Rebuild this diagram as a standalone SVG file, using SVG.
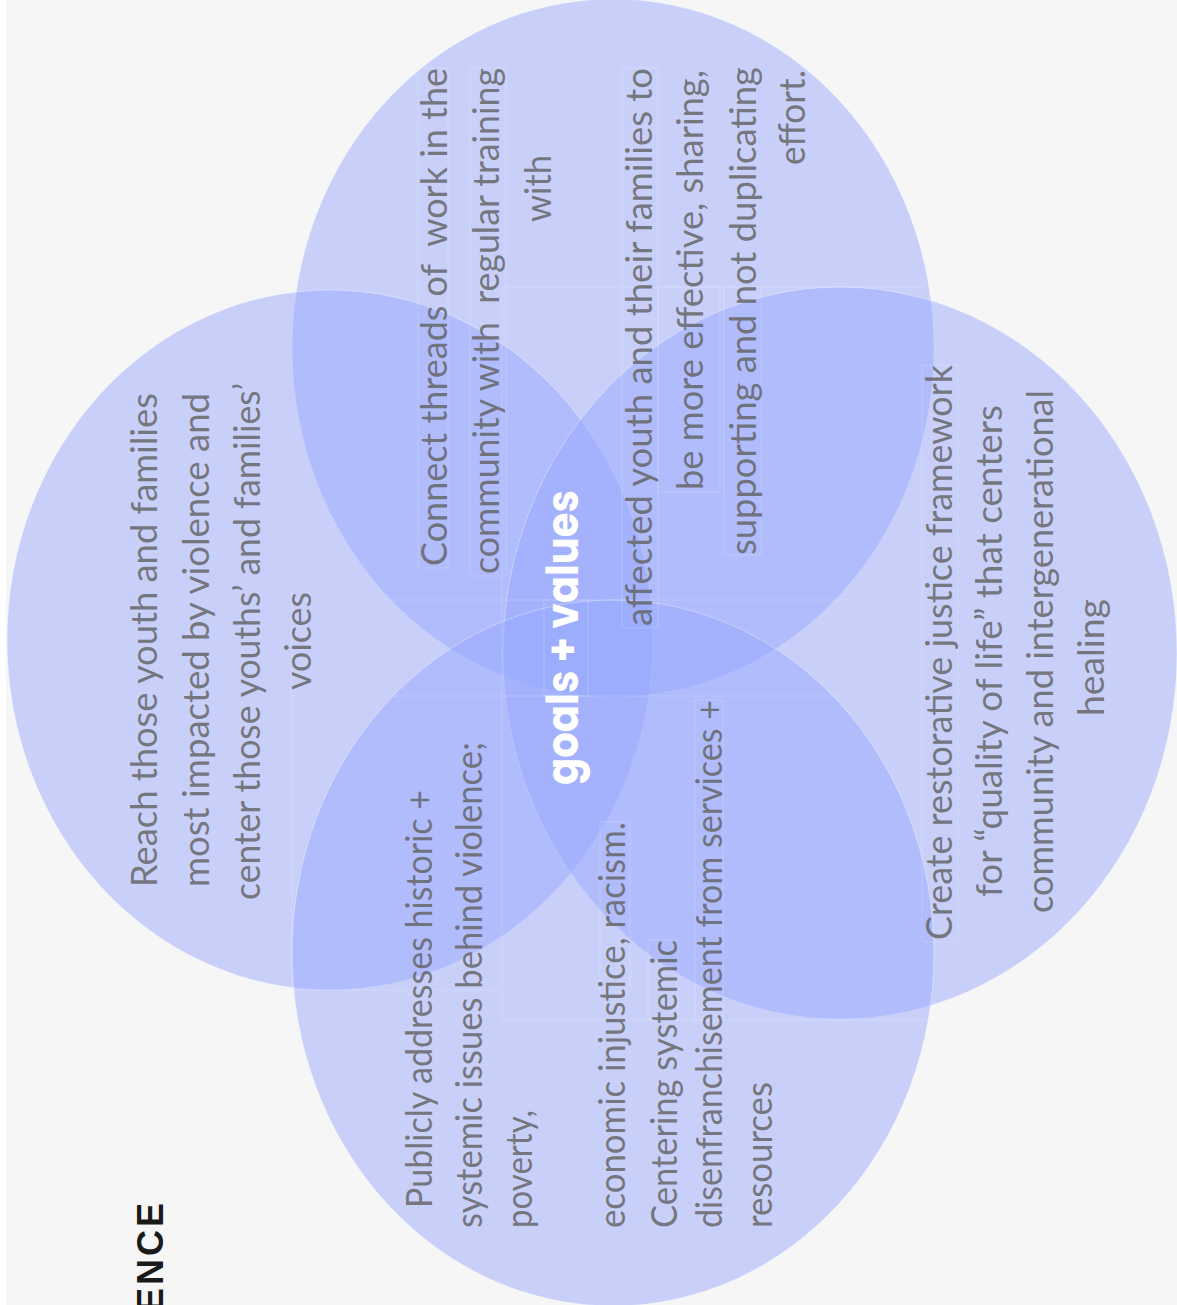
<svg xmlns="http://www.w3.org/2000/svg" width="1177" height="1305" viewBox="0 0 1177 1305">
<style>
.c{fill:#96a7fe;fill-opacity:0.48;stroke:#ffffff;stroke-opacity:0.35;stroke-width:1}
.t{font-family:Lato,"Liberation Sans",sans-serif;font-weight:400;font-size:36px;fill:#626262;fill-opacity:0.82}
.f{fill:none;stroke:#ffffff;stroke-opacity:0.18;stroke-width:1}
.g{font-family:Poppins,"Liberation Sans",sans-serif;font-weight:700;font-size:44px;fill:#ffffff}
.h{font-family:"Liberation Sans",sans-serif;font-weight:700;font-size:36px;fill:#1a1a1a;letter-spacing:3px}
</style>
<rect x="0" y="0" width="1177" height="1305" fill="#ffffff"/>
<rect x="6" y="0" width="1171" height="1305" fill="#f6f6f6"/>
<g id="circles">
<ellipse id="circle-top" class="c" cx="613" cy="348" rx="321" ry="349"/>
<ellipse id="circle-left" class="c" cx="330" cy="640" rx="323" ry="350"/>
<ellipse id="circle-right" class="c" cx="840" cy="653" rx="337" ry="366"/>
<ellipse id="circle-bottom" class="c" cx="613" cy="953" rx="321" ry="353"/>
</g>
<g id="frames">
<line class="f" x1="290" y1="600" x2="930" y2="600"/>
<line class="f" x1="290" y1="696" x2="930" y2="696"/>
<line class="f" x1="292" y1="592" x2="292" y2="990"/>
<line class="f" x1="502" y1="287" x2="502" y2="1020"/>
<line class="f" x1="505" y1="287" x2="925" y2="287"/>
<line class="f" x1="502" y1="1020" x2="930" y2="1020"/>
<line class="f" x1="290" y1="990" x2="502" y2="990"/>
<rect class="f" x="418" y="68" width="30" height="500"/>
<rect class="f" x="470" y="68" width="36" height="508"/>
<rect class="f" x="622" y="68" width="36" height="560"/>
<rect class="f" x="658" y="287" width="62" height="205"/>
<rect class="f" x="724" y="287" width="37" height="268"/>
<rect class="f" x="922" y="365" width="36" height="577"/>
<rect class="f" x="600" y="822" width="30" height="170"/>
<rect class="f" x="648" y="940" width="30" height="80"/>
<rect class="f" x="695" y="700" width="28" height="320"/>
<rect class="f" x="544" y="600" width="44" height="96"/>
</g>
<g id="node-reach">
<text class="t" transform="translate(157,887) rotate(-90)" textLength="494" lengthAdjust="spacingAndGlyphs">Reach those youth and families</text>
<text class="t" transform="translate(209,887) rotate(-90)" textLength="494" lengthAdjust="spacingAndGlyphs">most impacted by violence and</text>
<text class="t" transform="translate(260,900) rotate(-90)" textLength="517" lengthAdjust="spacingAndGlyphs">center those youths’ and families’</text>
<text class="t" transform="translate(311,690) rotate(-90)" textLength="98" lengthAdjust="spacingAndGlyphs">voices</text>
</g>
<g id="node-connect">
<text class="t" xml:space="preserve" transform="translate(447,566) rotate(-90)" textLength="498" lengthAdjust="spacingAndGlyphs">Connect threads of  work in the</text>
<text class="t" xml:space="preserve" transform="translate(499,574) rotate(-90)" textLength="506" lengthAdjust="spacingAndGlyphs">community with  regular training</text>
<text class="t" transform="translate(551,222) rotate(-90)" textLength="67" lengthAdjust="spacingAndGlyphs">with</text>
<text class="t" transform="translate(652,626) rotate(-90)" textLength="558" lengthAdjust="spacingAndGlyphs">affected youth and their families to</text>
<text class="t" transform="translate(703,490) rotate(-90)" textLength="420" lengthAdjust="spacingAndGlyphs">be more effective, sharing,</text>
<text class="t" transform="translate(756,555) rotate(-90)" textLength="488" lengthAdjust="spacingAndGlyphs">supporting and not duplicating</text>
<text class="t" transform="translate(805,165) rotate(-90)" textLength="95" lengthAdjust="spacingAndGlyphs">effort.</text>
</g>
<g id="node-restorative">
<text class="t" transform="translate(952,940) rotate(-90)" textLength="575" lengthAdjust="spacingAndGlyphs">Create restorative justice framework</text>
<text class="t" transform="translate(1002,897) rotate(-90)" textLength="492" lengthAdjust="spacingAndGlyphs">for “quality of life” that centers</text>
<text class="t" transform="translate(1053,913) rotate(-90)" textLength="523" lengthAdjust="spacingAndGlyphs">community and intergenerational</text>
<text class="t" transform="translate(1104,716) rotate(-90)" textLength="117" lengthAdjust="spacingAndGlyphs">healing</text>
</g>
<g id="node-publicly">
<text class="t" transform="translate(432,1208) rotate(-90)" textLength="418" lengthAdjust="spacingAndGlyphs">Publicly addresses historic +</text>
<text class="t" transform="translate(482,1228) rotate(-90)" textLength="486" lengthAdjust="spacingAndGlyphs">systemic issues behind violence;</text>
<text class="t" transform="translate(532,1228) rotate(-90)" textLength="118" lengthAdjust="spacingAndGlyphs">poverty,</text>
<text class="t" transform="translate(625,1228) rotate(-90)" textLength="406" lengthAdjust="spacingAndGlyphs">economic injustice, racism.</text>
<text class="t" transform="translate(677,1228) rotate(-90)" textLength="288" lengthAdjust="spacingAndGlyphs">Centering systemic</text>
<text class="t" transform="translate(722,1228) rotate(-90)" textLength="528" lengthAdjust="spacingAndGlyphs">disenfranchisement from services +</text>
<text class="t" transform="translate(772,1228) rotate(-90)" textLength="146" lengthAdjust="spacingAndGlyphs">resources</text>
</g>
<g id="node-center">
<text class="g" transform="translate(578,785) rotate(-90)" textLength="295" lengthAdjust="spacingAndGlyphs">goals + values</text>
</g>
<g id="title">
<text class="h" transform="translate(163,1200) rotate(-90)" text-anchor="end">ENCE</text>
</g>
<g id="connectors"></g>
</svg>
